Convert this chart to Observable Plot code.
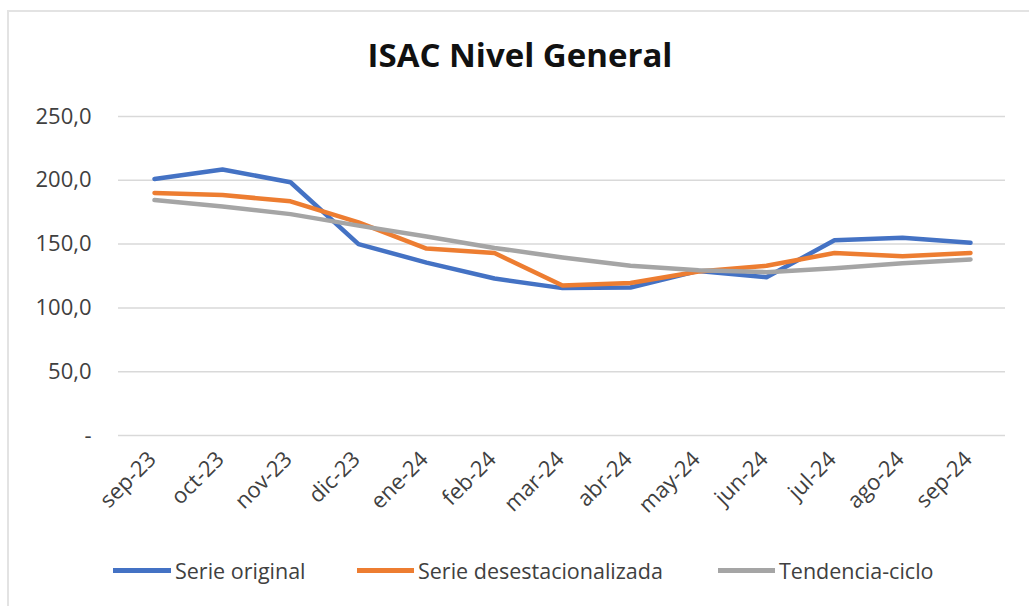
<!DOCTYPE html>
<html>
<head>
<meta charset="utf-8">
<script src="https://cdn.jsdelivr.net/npm/d3@7"></script>
<script src="https://cdn.jsdelivr.net/npm/@observablehq/plot@0.6"></script>
<style>
  html, body { margin: 0; padding: 0; background: #fff; overflow: hidden; }
  #root { position: relative; width: 1029px; height: 606px; overflow: hidden; font-family: "Open Sans", sans-serif; }
  #frame { position: absolute; left: 7px; top: 10px; width: 1100px; height: 700px; border: 2px solid #e3e3e3; box-sizing: border-box; }
  #title { position: absolute; left: 0; width: 1040px; top: 33px; text-align: center; font-size: 33px; font-weight: 700; color: #111; line-height: 44px; }
  #chart { position: absolute; left: 0; top: 90px; }
  #legend { position: absolute; top: 555px; left: 0; height: 30px; width: 1029px; }
  .item { position: absolute; top: 0; display: flex; align-items: center; height: 30px; font-size: 21.5px; color: #404040; white-space: nowrap; }
  .sw { display: inline-block; height: 5px; margin-right: 4px; }
</style>
</head>
<body>
<div id="root">
  <div id="frame"></div>
  <div id="title">ISAC Nivel General</div>
  <div id="chart"></div>
  <div id="legend"></div>
</div>
<script>
const months = ["sep-23","oct-23","nov-23","dic-23","ene-24","feb-24","mar-24","abr-24","may-24","jun-24","jul-24","ago-24","sep-24"];
const serieOriginal = [201.0, 208.5, 198.5, 150.0, 135.5, 123.0, 115.5, 116.0, 129.0, 124.0, 153.0, 155.0, 151.0];
const serieDesest   = [190.0, 188.5, 183.5, 167.0, 146.5, 143.0, 117.5, 119.5, 128.5, 133.0, 143.0, 140.5, 143.0];
const tendencia     = [184.5, 179.5, 173.5, 164.5, 156.0, 147.0, 139.5, 133.0, 129.5, 128.0, 131.0, 135.0, 138.0];
const seriesNames = ["Serie original", "Serie desestacionalizada", "Tendencia-ciclo"];
const seriesColors = ["#4472C4", "#ED7D31", "#A5A5A5"];
const yTicks = [0, 50, 100, 150, 200, 250];

const allSeries = [serieOriginal, serieDesest, tendencia];
const data = [];
allSeries.forEach((vals, si) => vals.forEach((v, i) => data.push({month: months[i], value: v, series: seriesNames[si]})));

const fmt = v => v === 0 ? "-" : v.toFixed(1).replace(".", ",");

const chart = Plot.plot({
  width: 1029,
  height: 440,
  marginLeft: 118,
  marginRight: 24,
  marginTop: 26,
  marginBottom: 95,
  style: { fontFamily: "Open Sans, sans-serif", fontSize: "22px", color: "#404040", background: "transparent", overflow: "visible" },
  x: { type: "point", domain: months, padding: 0.5, label: null },
  y: { domain: [0, 250], label: null },
  color: { domain: seriesNames, range: seriesColors },
  marks: [
    Plot.ruleY(yTicks, { stroke: "#d9d9d9", strokeWidth: 1.5 }),
    Plot.axisY({ ticks: yTicks, tickFormat: fmt, tickSize: 0, tickPadding: 27, label: null, fontSize: 22, fill: "#404040" }),
    Plot.axisX({ tickSize: 0, tickPadding: 20, tickRotate: -45, label: null, fontSize: 22, fill: "#404040", dx: -2 }),
    Plot.line(data, { x: "month", y: "value", z: "series", stroke: "series", strokeWidth: 4.5, strokeLinejoin: "round", strokeLinecap: "round" })
  ]
});
document.getElementById("chart").appendChild(chart);

const legendPos = [{line: 113, w: 58}, {line: 357, w: 57}, {line: 718, w: 57}];
const legend = document.getElementById("legend");
seriesNames.forEach((name, i) => {
  const it = document.createElement("div");
  it.className = "item";
  it.style.left = legendPos[i].line + "px";
  const sw = document.createElement("span");
  sw.className = "sw";
  sw.style.width = legendPos[i].w + "px";
  sw.style.background = seriesColors[i];
  it.appendChild(sw);
  const t = document.createElement("span");
  t.textContent = name;
  it.appendChild(t);
  legend.appendChild(it);
});
</script>
</body>
</html>
